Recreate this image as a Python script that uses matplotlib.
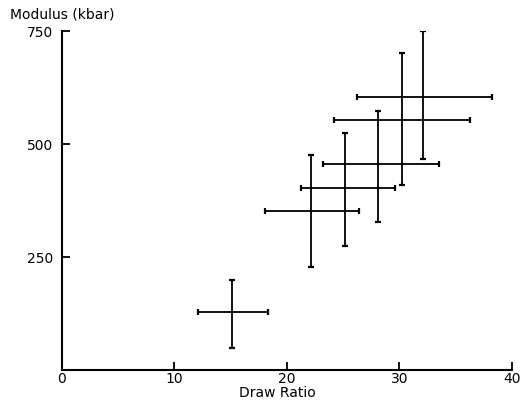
import matplotlib
matplotlib.use("Agg")
import matplotlib.pyplot as plt
import numpy as np

# values (centre lines and bar ends)
draw_ratio = [15.1, 22.2, 25.2, 28.1, 30.2, 32.1]
dr_low = [12.15, 18.1, 21.3, 23.25, 24.2, 26.2]
dr_high = [18.3, 26.4, 29.6, 33.5, 36.3, 38.2]

modulus = [128, 352, 404, 456, 554, 605]
mod_low = [50, 229, 274, 328, 410, 468]
mod_high = [200, 477, 525, 573, 702, 751]

x_ticks = [0, 10, 20, 30, 40]
y_ticks = [250, 500, 750]

x = np.array(draw_ratio)
y = np.array(modulus)
xerr = [x - np.array(dr_low), np.array(dr_high) - x]
yerr = [y - np.array(mod_low), np.array(mod_high) - y]

plt.rcParams['font.family'] = ['DejaVu Sans']
fs = 10

fig = plt.figure(figsize=(5.28, 4.03), dpi=100)
ax = fig.add_axes([0.1165, 0.081, 0.853, 0.842])

ax.errorbar(x, y, xerr=xerr, yerr=yerr, fmt='none', ecolor='black',
            elinewidth=1.3, capsize=2.5, capthick=1.6)

ax.set_xlim(0, 40)
ax.set_ylim(0, 750)
ax.spines['top'].set_visible(False)
ax.spines['right'].set_visible(False)
ax.spines['left'].set_linewidth(1.5)
ax.spines['bottom'].set_linewidth(1.5)

ax.set_xticks(x_ticks)
ax.set_xticklabels([str(t) for t in x_ticks], fontsize=fs)
ax.set_yticks(y_ticks)
ax.set_yticklabels([str(t) for t in y_ticks], fontsize=fs)
ax.tick_params(axis='x', direction='in', length=6, width=1.3, pad=1)
ax.tick_params(axis='y', direction='in', length=6, width=1.3, pad=6)

ax.set_xlabel("Draw Ratio", fontsize=fs)
ax.xaxis.set_label_coords(0.48, -0.068)
ax.xaxis.label.set_va('center')
fig.text(0.019, 0.963, "Modulus (kbar)", fontsize=fs, ha='left', va='center')

fig.savefig("out.png", dpi=100)
